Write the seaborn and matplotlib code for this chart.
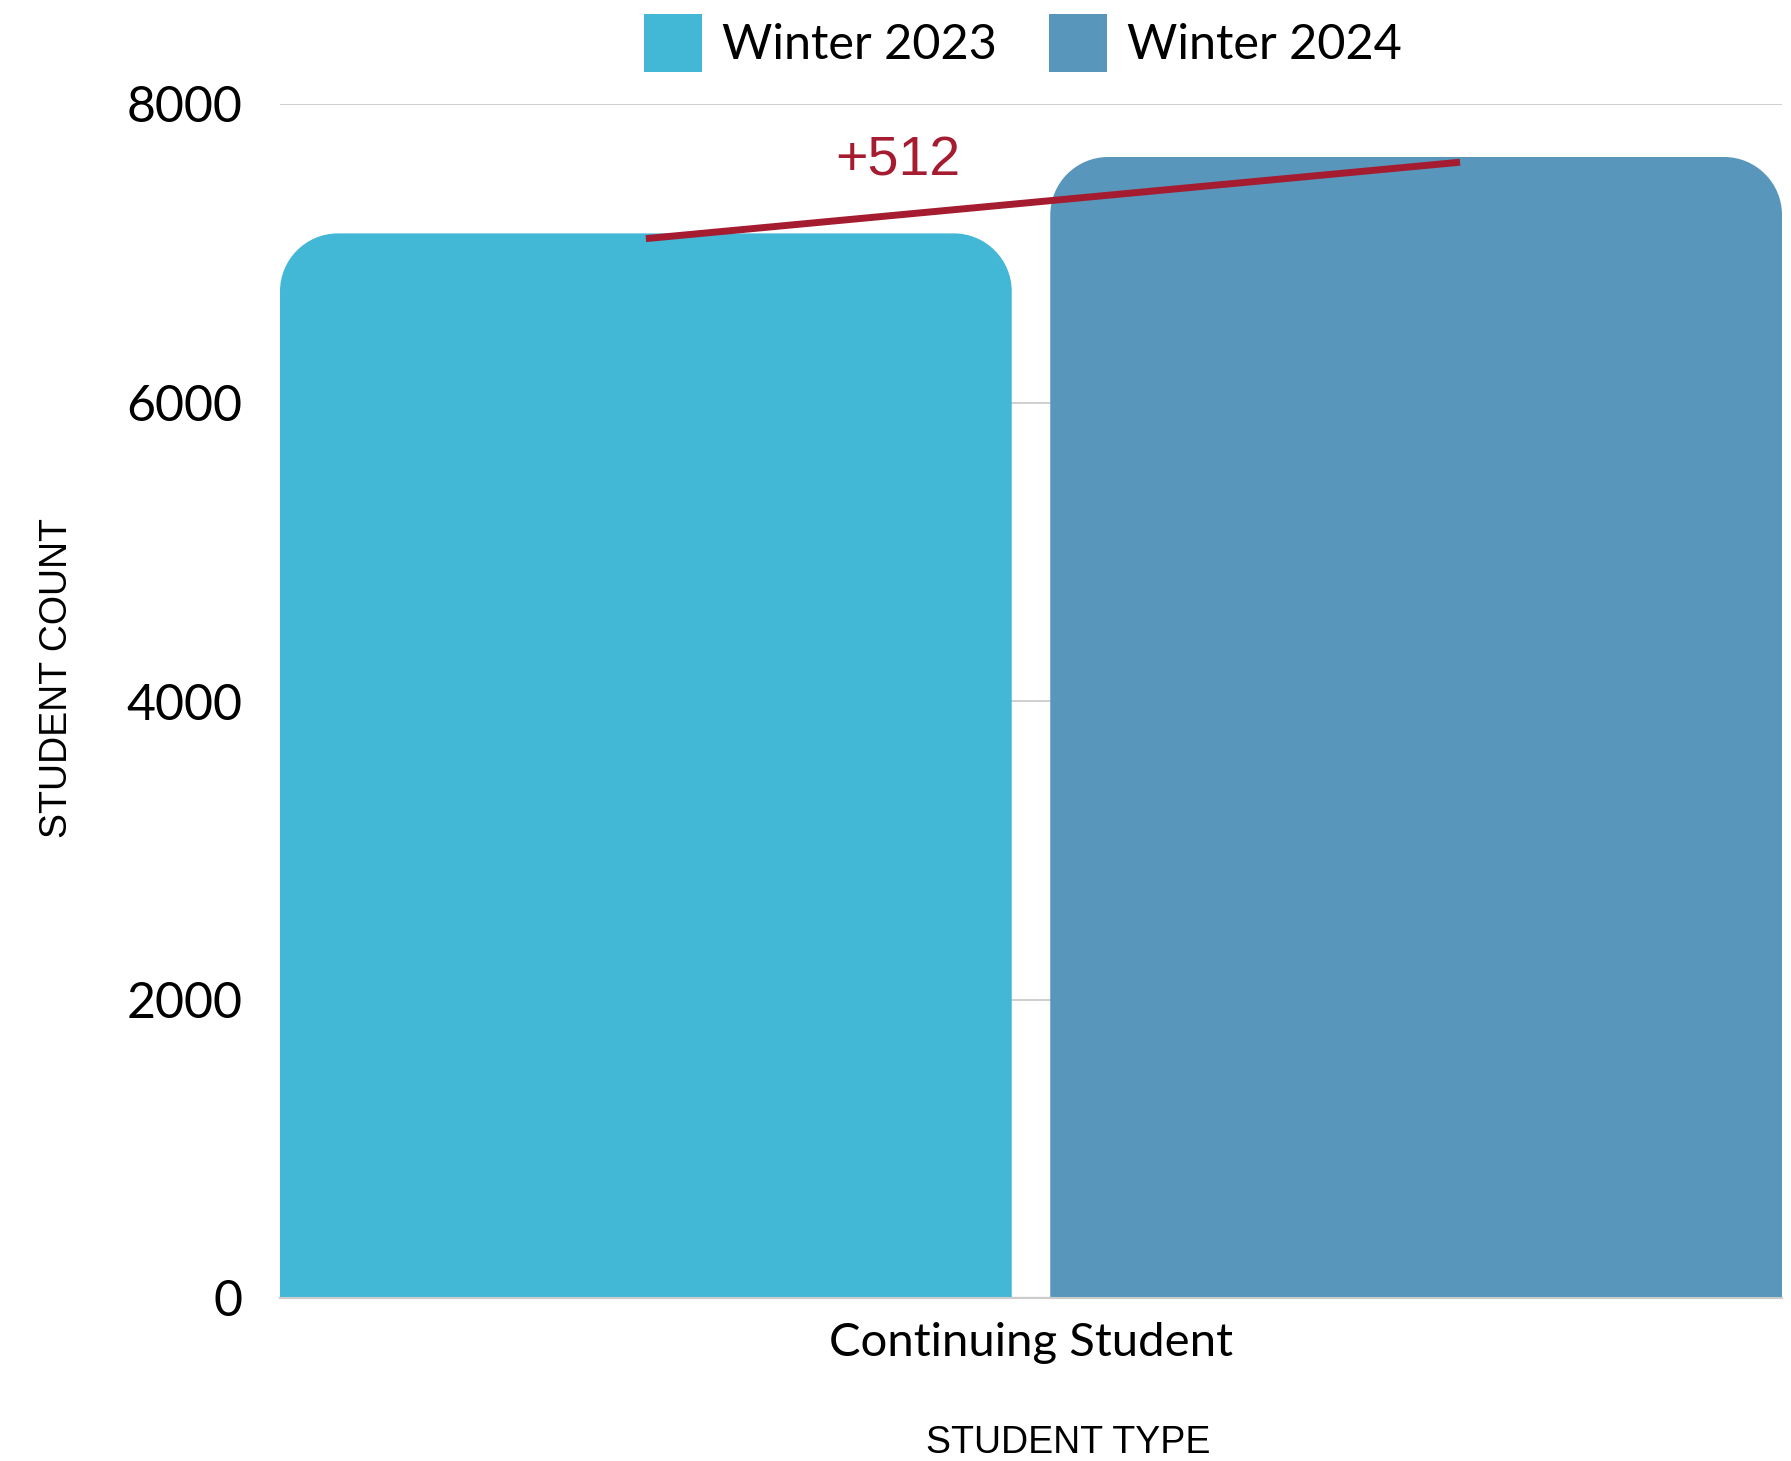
import numpy as np
import pandas as pd
import matplotlib
matplotlib.use("Agg")
import matplotlib.pyplot as plt
import seaborn as sns
from matplotlib.path import Path
from matplotlib.patches import PathPatch, Patch

# ---- data ----
terms = ["Winter 2023", "Winter 2024"]
student_types = ["Continuing Student"]
counts = [7133, 7645]
colors = ["#42B7D6", "#5896BB"]
yticks = [0, 2000, 4000, 6000, 8000]
diff_color = "#A51C30"

df = pd.DataFrame({
    "type": student_types * len(terms),
    "term": terms,
    "count": counts,
})

sns.set_theme(style="white")
plt.rcParams["font.family"] = ["Lato", "DejaVu Sans"]
plt.rcParams["text.color"] = "black"

W, H = 1791, 1461
fig = plt.figure(figsize=(W / 100, H / 100), dpi=100)
ax_l, ax_r, ax_t, ax_b = 280, 1782, 104, 1298
ax = fig.add_axes([ax_l / W, (H - ax_b) / H, (ax_r - ax_l) / W, (ax_b - ax_t) / H])

sns.barplot(data=df, x="type", y="count", hue="term", hue_order=terms,
            palette=colors, saturation=1, width=0.8, gap=0.05,
            errorbar=None, legend=False, ax=ax)

bars = [p for p in ax.patches]
x0s = [b.get_x() for b in bars]
x1s = [b.get_x() + b.get_width() for b in bars]
ax.set_xlim(min(x0s), max(x1s))
ax.set_ylim(0, 8000)
ax.set_yticks(yticks)

# rounded top corners
axw_px = ax_r - ax_l
axh_px = ax_b - ax_t
r_px = 58
xr = ax.get_xlim()[1] - ax.get_xlim()[0]
rx = r_px / axw_px * xr
ry = r_px / axh_px * 8000
k = 0.5523
for b in bars:
    x0 = b.get_x(); x1 = x0 + b.get_width()
    y0 = b.get_y(); y1 = y0 + b.get_height()
    verts = [(x0, y0), (x0, y1 - ry),
             (x0, y1 - ry + k * ry), (x0 + rx - k * rx, y1), (x0 + rx, y1),
             (x1 - rx, y1),
             (x1 - rx + k * rx, y1), (x1, y1 - ry + k * ry), (x1, y1 - ry),
             (x1, y0), (x0, y0)]
    codes = [Path.MOVETO, Path.LINETO,
             Path.CURVE4, Path.CURVE4, Path.CURVE4,
             Path.LINETO,
             Path.CURVE4, Path.CURVE4, Path.CURVE4,
             Path.LINETO, Path.CLOSEPOLY]
    pp = PathPatch(Path(verts, codes), facecolor=b.get_facecolor(),
                   edgecolor="none", zorder=2)
    ax.add_patch(pp)
    b.set_visible(False)

# grid and spines
ax.set_axisbelow(True)
ax.yaxis.grid(True, color="#cccccc", lw=1.3)
ax.xaxis.grid(False)
for s in ["left", "right", "top"]:
    ax.spines[s].set_visible(False)
ax.spines["bottom"].set_color("#cccccc")
ax.spines["bottom"].set_linewidth(1.5)
ax.axhline(0, color="#666666", lw=1.5, zorder=1)
ax.tick_params(axis="both", length=0)
ax.tick_params(axis="y", labelsize=36, pad=27, labelcolor="black")
ax.tick_params(axis="x", labelsize=34, pad=17, labelcolor="black")

# axis titles
ax.set_xlabel("STUDENT TYPE", fontsize=27, family=["Liberation Sans", "DejaVu Sans"],
              color="black")
ax.set_ylabel("STUDENT COUNT", fontsize=27, family=["Liberation Sans", "DejaVu Sans"],
              color="black")
ax.xaxis.set_label_coords((1068 - ax_l) / axw_px, -(1443 - ax_b) / axh_px)
ax.xaxis.label.set_va("center")
ax.yaxis.set_label_coords(-(ax_l - 57) / axw_px, (ax_b - 678) / axh_px)
ax.yaxis.label.set_va("center")

# difference line and annotation
c1 = bars[0].get_x() + bars[0].get_width() / 2
c2 = bars[1].get_x() + bars[1].get_width() / 2 + 0.06 * bars[1].get_width()
v1, v2 = counts[0], counts[1]
ax.plot([c1, c2], [v1 - 35, v2 - 35], color=diff_color, lw=5, zorder=3,
        solid_capstyle="butt")
ax.text(c1 + 0.31 * (c2 - c1), v2 - 30, f"+{v2 - v1}", color=diff_color,
        fontsize=40, family=["Liberation Sans", "DejaVu Sans"],
        ha="center", va="center", zorder=4)

# legend
handles = [Patch(facecolor=c, edgecolor="none") for c in colors]
fig.legend(handles, terms, loc="upper center", bbox_to_anchor=(1023 / W, 1 - 14 / H),
           ncol=2, frameon=False, fontsize=35, handlelength=1.19, handleheight=1.454,
           handletextpad=0.41, columnspacing=1.07, borderpad=0, borderaxespad=0,
           labelcolor="black")

fig.savefig("out.png", dpi=100)
